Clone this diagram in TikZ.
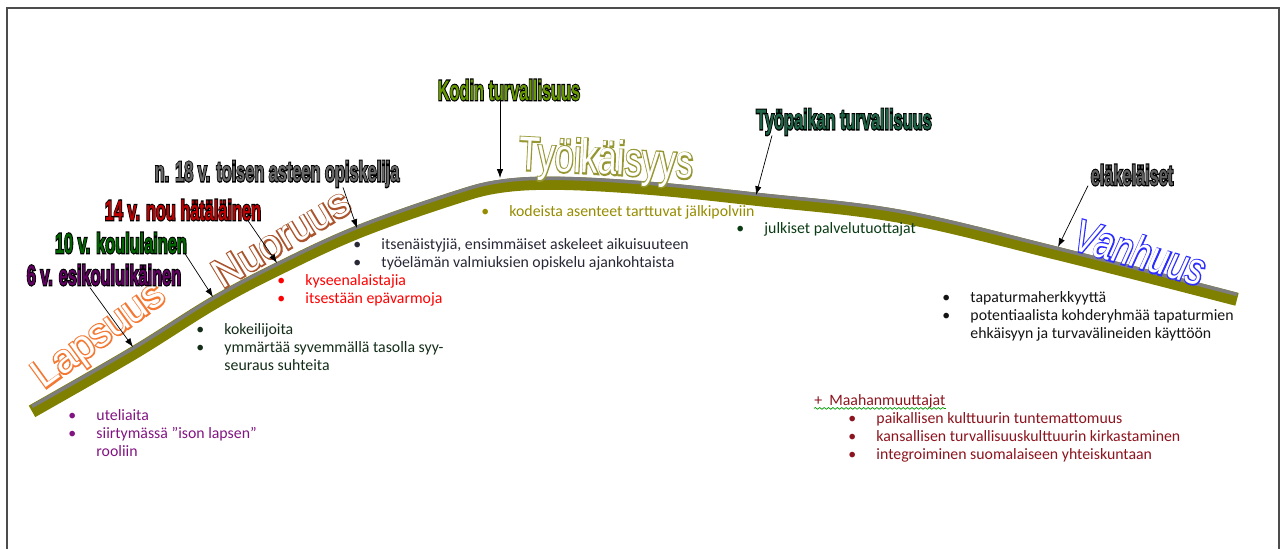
\documentclass[tikz,border=0pt]{standalone}
\usepackage{fontspec}
\setmainfont{Carlito}
\newfontfamily\lblfont{Liberation Sans}
\usetikzlibrary{arrows.meta,calc,decorations.pathmorphing}

\definecolor{tieolive}{RGB}{128,128,0}
\definecolor{tieharmaa}{RGB}{125,125,125}
\definecolor{otsLapsi}{RGB}{96,0,96}
\definecolor{otsKoulu}{RGB}{0,102,0}
\definecolor{otsNuori}{RGB}{192,0,0}
\definecolor{otsOpisk}{RGB}{105,105,105}
\definecolor{otsKoti}{RGB}{102,153,0}
\definecolor{otsTyo}{RGB}{30,100,70}
\definecolor{otsElake}{RGB}{95,95,95}
\definecolor{isoLapsuus}{RGB}{245,120,50}
\definecolor{isoNuoruus}{RGB}{170,85,45}
\definecolor{isoTyoika}{RGB}{150,150,50}
\definecolor{isoVanhuus}{RGB}{45,45,255}
\definecolor{txtPurppura}{RGB}{130,20,130}
\definecolor{txtTumma}{RGB}{20,45,25}
\definecolor{txtHarmaa}{RGB}{40,40,55}
\definecolor{txtOliivi}{RGB}{150,140,0}
\definecolor{txtVihrea}{RGB}{10,60,20}
\definecolor{txtMusta}{RGB}{20,20,20}
\definecolor{txtViini}{RGB}{140,20,30}

\newcommand{\bl}{\makebox[16pt][l]{\textbullet}}
\newcommand{\sis}{\hspace*{16pt}}
% ääriviiva alle (Tr 1), täyttö päälle
\newcommand{\viiva}[3]{\rlap{\textcolor{#1}{\special{pdf:literal direct 1 Tr #2 w}#3\special{pdf:literal direct 0 Tr}}}}
\newcommand{\otsikko}[2]{\scalebox{0.58}[1]{\lblfont\bfseries\viiva{black}{1.4}{#2}\textcolor{#1}{#2}}}
\newcommand{\iso}[2]{\viiva{#1}{1.6}{#2}\textcolor{white}{#2}}

\begin{document}
\begin{tikzpicture}[x=0.02cm,y=-0.02cm,>=Latex,
  pil/.style={-{Latex[length=5pt,width=3.6pt]},thin,black},
  lista/.style={anchor=north west,inner sep=0pt,align=left,font=\fontsize{9}{10.4}\selectfont},
  otsake/.style={inner sep=0pt,font=\fontsize{16}{18}\selectfont},
  isosana/.style={inner sep=0pt,font=\lblfont\fontsize{23}{25}\selectfont}]
\useasboundingbox (0,0) rectangle (1284,549);
% kehys
\draw[line width=1.2pt,black!70] (7,549) -- (7,8) -- (1279,8) -- (1279,549);

% tie
\draw[tieolive,line width=7.5pt,yshift=-3.6pt] plot[smooth,tension=0.6] coordinates {(32,405) (133,347) (213,297) (277,263) (357,226) (450,193) (500,180) (560,177) (650,182) (757,193) (900,210) (1057,247) (1237,293)};
\draw[tieharmaa,line width=2pt,yshift=-0.8pt] plot[smooth,tension=0.6] coordinates {(32,405) (133,347) (213,297) (277,263) (357,226) (450,193) (500,180) (560,177) (650,182) (757,193) (900,210) (1057,247) (1237,293)};

% kohdat tiellä
\coordinate (r6) at (133,347);
\coordinate (r10) at (213,297);
\coordinate (r14) at (277,263);
\coordinate (r18) at (357,228);
\coordinate (rkoti) at (500,178);
\coordinate (rtyo) at (756,195);
\coordinate (relake) at (1058,247);

% iso sanat
\node[isosana,rotate=36] (lapsuus) at (100,337) {\iso{isoLapsuus}{Lapsuus}};
\node[isosana,rotate=31] (nuoruus) at (281,238) {\iso{isoNuoruus}{Nuoruus}};
\node[isosana,rotate=-3,font=\lblfont\fontsize{27}{29}\selectfont] (tyoika) at (606,162) {\scalebox{0.72}[1]{\iso{isoTyoika}{Työikäisyys}}};
\node[isosana,rotate=-16,font=\lblfont\itshape\fontsize{26}{28}\selectfont] (vanhuus) at (1140,252) {\scalebox{0.75}[1]{\iso{isoVanhuus}{Vanhuus}}};

% ikävaiheet
\node[otsake] (l6) at (104,275) {\otsikko{otsLapsi}{6 v. esikouluikäinen}};
\node[otsake] (l10) at (121,243) {\otsikko{otsKoulu}{10 v. koululainen}};
\node[otsake] (l14) at (183,210) {\otsikko{otsNuori}{14 v. nou hätäläinen}};
\node[otsake] (l18) at (277,174) {\otsikko{otsOpisk}{n. 18 v. toisen asteen opiskelija}};
\node[otsake] (koti) at (509,90) {\otsikko{otsKoti}{Kodin turvallisuus}};
\node[otsake] (tyo) at (844,122) {\otsikko{otsTyo}{Työpaikan turvallisuus}};
\node[otsake] (elake) at (1132,175) {\otsikko{otsElake}{eläkeläiset}};

\draw[pil] ($(l6.south)+(-14,2)$) -- (r6);
\draw[pil] ($(l10.south)+(64,0)$) -- (r10);
\draw[pil] ($(l14.south)+(65,0)$) -- (r14);
\draw[pil] ($(l18.south)+(66,0)$) -- (r18);
\draw[pil] ($(koti.south)+(-9,0)$) -- (rkoti);
\draw[pil] ($(tyo.south)+(-72,0)$) -- (rtyo);
\draw[pil] ($(elake.south)+(-44,0)$) -- (relake);

% luettelot
\node[lista,text=txtPurppura] (lapsi) at (68,409) {\bl uteliaita\\ \bl siirtymässä ”ison lapsen”\\ \sis rooliin};
\node[lista,text=txtTumma] (koulu) at (196,323) {\bl kokeilijoita\\ \bl ymmärtää syvemmällä tasolla syy-\\ \sis seuraus suhteita};
\node[lista,text=red] (nuori) at (277,274) {\bl kyseenalaistajia\\ \bl itsestään epävarmoja};
\node[lista,text=txtHarmaa] (opisk) at (353,238) {\bl itsenäistyjiä, ensimmäiset askeleet aikuisuuteen\\ \bl työelämän valmiuksien opiskelu ajankohtaista};
\node[lista,text=txtOliivi] (kodit) at (481,205) {\bl kodeista asenteet tarttuvat jälkipolviin};
\node[lista,text=txtVihrea] (julk) at (736,222) {\bl julkiset palvelutuottajat};
\node[lista,text=txtMusta] (vanhat) at (942,291) {\bl tapaturmaherkkyyttä\\ \bl potentiaalista kohderyhmää tapaturmien\\ \sis ehkäisyyn ja turvavälineiden käyttöön};
\node[lista,text=txtViini] (maahan) at (814,394) {+\ \ Maahanmuuttajat};
\draw[green!60!black,line width=0.4pt,decorate,decoration={snake,amplitude=0.5pt,segment length=2.5pt}] (maahan.south west) -- (maahan.south east);
\node[lista,text=txtViini] (maalista) at (848,412) {\bl paikallisen kulttuurin tuntemattomuus\\ \bl kansallisen turvallisuuskulttuurin kirkastaminen\\ \bl integroiminen suomalaiseen yhteiskuntaan};
\end{tikzpicture}
\end{document}
